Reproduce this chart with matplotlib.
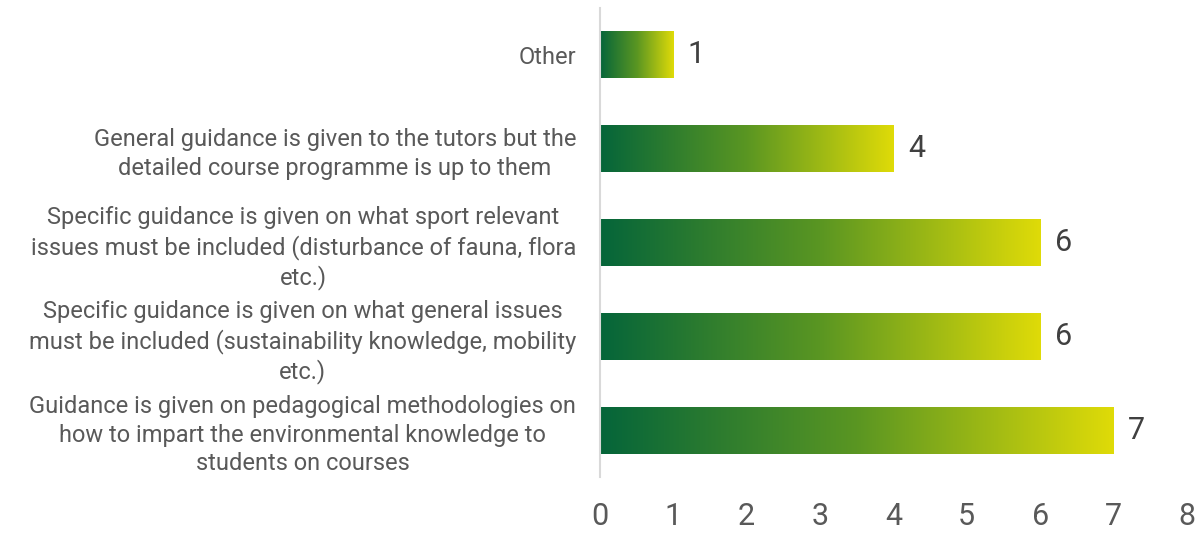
import numpy as np
import matplotlib
matplotlib.use('Agg')
import matplotlib.pyplot as plt
from matplotlib.colors import LinearSegmentedColormap

# categories from bottom to top
labels = [
    'Guidance is given on pedagogical methodologies on\nhow to impart the environmental knowledge to\nstudents on courses',
    'Specific guidance is given on what general issues\nmust be included (sustainability knowledge, mobility\netc.)',
    'Specific guidance is given on what sport relevant\nissues must be included (disturbance of fauna, flora\netc.)',
    'General guidance is given to the tutors but the\ndetailed course programme is up to them',
    'Other',
]
values = [7, 6, 6, 4, 1]
x_ticks = [0, 1, 2, 3, 4, 5, 6, 7, 8]

plt.rcParams['font.family'] = ['Roboto', 'DejaVu Sans']

green_yellow = LinearSegmentedColormap.from_list('gy', ['#05653a', '#5a9622', '#dfdb08'])

fig = plt.figure(figsize=(12.02, 5.33), dpi=100)
ax = fig.add_axes([0.499, 0.105, 0.4885, 0.88])

ypos = np.arange(len(values))
bars = ax.barh(ypos, values, height=0.5, color='none', edgecolor='none')
grad = np.linspace(0, 1, 256).reshape(1, -1)
for bar, v, y in zip(bars, values, ypos):
    img = ax.imshow(grad, cmap=green_yellow, aspect='auto', interpolation='bilinear',
                    extent=[0, v, y - 0.25, y + 0.25], zorder=2)
    img.set_clip_path(bar)
    ax.text(v + 0.2, y, str(v), va='center', ha='left', fontsize=22, color='#404040')

ax.set_xlim(0, 8)
ax.set_ylim(-0.5, len(values) - 0.5)
ax.set_xticks(x_ticks)
ax.set_xticklabels([str(t) for t in x_ticks], fontsize=22, color='#595959')
ax.set_yticks(ypos)
ax.set_yticklabels(labels, fontsize=17, color='#595959', multialignment='center',
                   linespacing=1.3)
ax.tick_params(axis='both', length=0)
ax.tick_params(axis='y', pad=17)
ax.tick_params(axis='x', pad=18)

for side in ['top', 'right', 'bottom']:
    ax.spines[side].set_visible(False)
ax.spines['left'].set_color('#d9d9d9')
ax.spines['left'].set_linewidth(1.5)

plt.savefig('out.png', dpi=100)
plt.close()
